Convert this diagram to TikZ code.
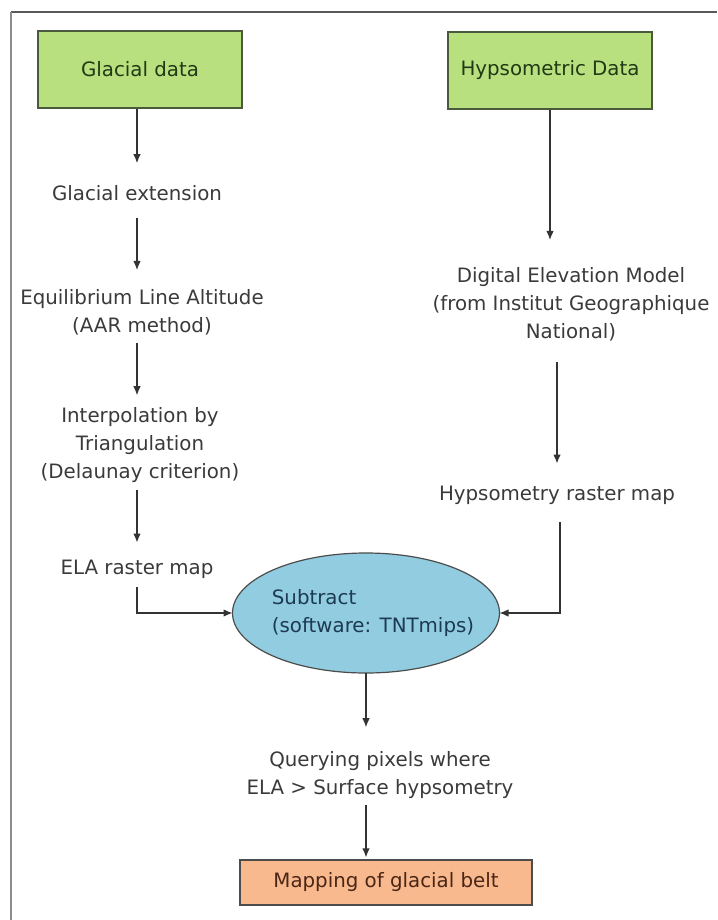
\documentclass[tikz,border=0pt]{standalone}
\usepackage{fontspec}
\setmainfont{DejaVu Sans}
\usetikzlibrary{arrows.meta,shapes.geometric}
\definecolor{boxgreen}{HTML}{B9E07F}
\definecolor{greenedge}{HTML}{4B5A3C}
\definecolor{greentext}{HTML}{1F3A14}
\definecolor{ellblue}{HTML}{92CCE0}
\definecolor{bluetext}{HTML}{1C3A52}
\definecolor{boxorange}{HTML}{F8B98E}
\definecolor{orangetext}{HTML}{4A2616}
\definecolor{textgray}{HTML}{3A3A3A}
\definecolor{linegray}{HTML}{333333}

\begin{document}
\begin{tikzpicture}[x=1pt,y=-1pt,
		txt/.style={font=\fontsize{19.8}{28}\selectfont, text=textgray, inner sep=0pt, align=center},
		databox/.style={txt, draw=greenedge, fill=boxgreen, line width=1.3pt, minimum width=204pt, minimum height=77pt, text=greentext},
		flow/.style={draw=linegray, line width=1.2pt, -{Latex[length=9pt,width=7.5pt]}}]
		
		\useasboundingbox (0,0) rectangle (717,920);
		% frame: top and left edge only
		\draw[line width=1.5pt, color=black!65] (11,12) -- (717,12);
		\draw[line width=2pt, color=black!45] (11,12) -- (11,920);
		
		% input boxes
		\node[databox] (gdata) at (140,69.5) {Glacial data};
		\node[databox] (hdata) at (550,70.5) {Hypsometric Data};
		
		% left column
		\node[txt] (gext)   at (137,193) {Glacial extension};
		\node[txt] (ela)    at (142,312) {Equilibrium Line Altitude\\(AAR method)};
		\node[txt] (interp) at (140,445) {Interpolation by\\Triangulation\\(Delaunay criterion)};
		\node[txt] (elamap) at (137,569) {ELA raster map};
		
		% right column
		\node[txt] (dem)  at (571,304) {Digital Elevation Model\\(from Institut Geographique\\National)};
		\node[txt] (hmap) at (557,495) {Hypsometry raster map};
		
		% processing
		\node[ellipse, draw=black!70, fill=ellblue, line width=1.2pt, inner sep=0pt, outer sep=0pt,
			minimum width=267pt, minimum height=120pt] (subtract) at (366,613) {};
		\node[txt, align=left, text=bluetext] (subtxt) at (373,613) {Subtract\\(software: TNTmips)};
		\node[txt] (query) at (380,775) {Querying pixels where\\ELA > Surface hypsometry};
		\node[txt, draw=black!70, fill=boxorange, line width=1.2pt, minimum width=292pt, minimum height=45pt,
			text=orangetext] (mapping) at (386,882.5) {Mapping of glacial belt};
		
		% connectors
		\draw[flow, shorten >=22pt] (gext |- gdata.south) -- (gext.north);
		\draw[flow, shorten <=17pt, shorten >=19pt] (gext.south) -- (gext |- ela.north);
		\draw[flow, shorten <=8pt, shorten >=12pt] (gext |- ela.south) -- (gext |- interp.north);
		\draw[flow, shorten <=7pt, shorten >=17pt] (gext |- interp.south) -- (elamap.north);
		\draw[flow, shorten <=9pt] (elamap.south) |- (subtract.west);
		
		\draw[flow, shorten >=27pt] (hdata.south) -- (hdata |- dem.north);
		\draw[flow, shorten <=21pt, shorten >=22pt] (hmap |- dem.south) -- (hmap.north);
		\draw[flow, shorten <=18pt] ([xshift=3pt]hmap.south) |- (subtract.east);
		
		\draw[flow, shorten >=24pt] (subtract.south) -- (subtract |- query.north);
		\draw[flow, shorten <=6pt, shorten >=2pt] (subtract |- query.south) -- (subtract |- mapping.north);
		
	\end{tikzpicture}
\end{document}
